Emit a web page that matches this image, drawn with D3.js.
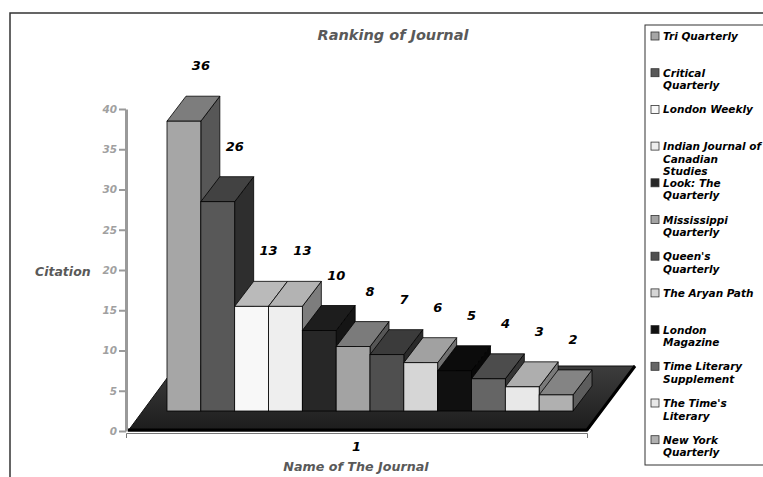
<!DOCTYPE html>
<html>
<head>
<meta charset="utf-8">
<script src="https://cdn.jsdelivr.net/npm/d3@7"></script>
<style>
  body { margin: 0; background: #fff; }
  text { font-family: "DejaVu Sans", Arial, sans-serif; font-weight: bold; font-style: italic; }
</style>
</head>
<body>
<script>
// chart data
var journals = ["Tri Quarterly", "Critical Quarterly", "London Weekly",
  "Indian Journal of Canadian Studies", "Look: The Quarterly", "Mississippi Quarterly",
  "Queen's Quarterly", "The Aryan Path", "London Magazine",
  "Time Literary Supplement", "The Time's Literary", "New York Quarterly"];
var citations = [36, 26, 13, 13, 10, 8, 7, 6, 5, 4, 3, 2];
var legendLines = [["Tri Quarterly"], ["Critical", "Quarterly"], ["London Weekly"],
  ["Indian Journal of", "Canadian", "Studies"], ["Look: The", "Quarterly"], ["Mississippi", "Quarterly"],
  ["Queen's", "Quarterly"], ["The Aryan Path"], ["London", "Magazine"],
  ["Time Literary", "Supplement"], ["The Time's", "Literary"], ["New York", "Quarterly"]];
var yTicks = [0, 5, 10, 15, 20, 25, 30, 35, 40];
var colors = ["#a6a6a6", "#585858", "#f8f8f8", "#eeeeee", "#272727", "#a3a3a3",
  "#4f4f4f", "#d6d6d6", "#101010", "#656565", "#e8e8e8", "#b0b0b0"];

var width = 763, height = 477;

var svg = d3.select("body").append("svg")
  .attr("width", width)
  .attr("height", height);

var defs = svg.append("defs");
var grad = defs.append("linearGradient").attr("id", "floorGrad")
  .attr("x1", 0).attr("y1", 0).attr("x2", 0).attr("y2", 1);
grad.append("stop").attr("offset", "0%").attr("stop-color", "#3d3d3d");
grad.append("stop").attr("offset", "100%").attr("stop-color", "#1c1c1c");

// outer frame
svg.append("rect")
  .attr("x", 10).attr("y", 13)
  .attr("width", 800).attr("height", 500)
  .attr("fill", "none").attr("stroke", "#333").attr("stroke-width", 1.5);

var y = d3.scaleLinear().domain([0, 40]).range([431, 109]);
var x = d3.scaleBand().domain(journals).range([167, 573]).padding(0);

var lift = 20;           // bars stand on the floor, raised from axis zero
var ddx = 19, ddy = -25; // bar depth
var fdx = 48, fdy = -65; // floor depth

// floor
var fx0 = 128, fx1 = 587, fy = 431;
svg.append("path")
  .attr("d", "M" + fx0 + "," + fy + "L" + fx1 + "," + fy + "L" + (fx1 + fdx) + "," + (fy + fdy) +
    "L" + (fx0 + fdx) + "," + (fy + fdy) + "Z")
  .attr("fill", "url(#floorGrad)")
  .attr("stroke", "#111").attr("stroke-width", 1);
svg.append("path")
  .attr("d", "M" + fx0 + "," + (fy - 1) + "L" + fx1 + "," + (fy - 1) + "L" + (fx1 + fdx) + "," + (fy + fdy))
  .attr("fill", "none").attr("stroke", "#000").attr("stroke-width", 3);

// y axis
var yAxis = svg.append("g")
  .attr("transform", "translate(126,0)")
  .call(d3.axisLeft(y).tickValues(yTicks).tickSizeInner(7).tickSizeOuter(0).tickPadding(2));
yAxis.select(".domain").attr("stroke", "#9a9a9a").attr("stroke-width", 3);
yAxis.selectAll(".tick line").attr("stroke", "#9a9a9a").attr("stroke-width", 2);
yAxis.selectAll(".tick text")
  .attr("fill", "#a0a0a0")
  .style("font-size", "10.5px")
  .style("font-family", "DejaVu Sans, Arial, sans-serif");

// x axis
var xCat = d3.scaleBand().domain(["1"]).range([126, 587]);
var xAxis = svg.append("g")
  .attr("transform", "translate(0,433)")
  .call(d3.axisBottom(xCat).tickSizeInner(0).tickSizeOuter(5).tickPadding(9));
xAxis.select(".domain").attr("stroke", "#777").attr("stroke-width", 1);
xAxis.selectAll(".tick text")
  .attr("fill", "#000")
  .style("font-size", "13px")
  .style("font-family", "DejaVu Sans, Arial, sans-serif");

// bars
var bars = svg.selectAll(".bar")
  .data(journals)
  .enter()
  .append("g")
  .attr("class", "bar");

bars.each(function(d, i){
  var g = d3.select(this);
  var x0 = x(d), x1 = x(d) + x.bandwidth();
  var yb = y(0) - lift, yt = y(citations[i]) - lift;
  var c = d3.color(colors[i]);
  g.append("path")
    .attr("d", "M" + x1 + "," + yb + "L" + (x1 + ddx) + "," + (yb + ddy) + "L" + (x1 + ddx) + "," + (yt + ddy) +
      "L" + x1 + "," + yt + "Z")
    .attr("fill", c.darker(1.8)).attr("stroke", "#000").attr("stroke-width", 0.8);
  g.append("path")
    .attr("d", "M" + x0 + "," + yt + "L" + (x0 + ddx) + "," + (yt + ddy) + "L" + (x1 + ddx) + "," + (yt + ddy) +
      "L" + x1 + "," + yt + "Z")
    .attr("fill", c.darker(0.8)).attr("stroke", "#000").attr("stroke-width", 0.8);
  g.append("rect")
    .attr("x", x0).attr("y", yt)
    .attr("width", x.bandwidth()).attr("height", yb - yt)
    .attr("fill", colors[i]).attr("stroke", "#000").attr("stroke-width", 0.8);
});

// value labels
svg.selectAll(".val")
  .data(citations)
  .enter()
  .append("text")
  .attr("class", "val")
  .attr("x", function(d, i){ return x(journals[i]) + x.bandwidth() / 2 + 17; })
  .attr("y", function(d){ return y(d) - lift - 51; })
  .attr("text-anchor", "middle")
  .style("font-size", "13px")
  .text(function(d){ return d; });

// titles
svg.append("text")
  .attr("x", 393).attr("y", 40)
  .attr("text-anchor", "middle")
  .attr("fill", "#595959")
  .style("font-size", "14.5px")
  .text("Ranking of Journal");

svg.append("text")
  .attr("x", 35).attr("y", 276)
  .attr("fill", "#595959")
  .style("font-size", "12.5px")
  .text("Citation");

svg.append("text")
  .attr("x", 356).attr("y", 471)
  .attr("text-anchor", "middle")
  .attr("fill", "#595959")
  .style("font-size", "12.7px")
  .text("Name of The Journal");

// legend
svg.append("rect")
  .attr("x", 645).attr("y", 25)
  .attr("width", 200).attr("height", 440)
  .attr("fill", "#fff").attr("stroke", "#333").attr("stroke-width", 1);

var legend = svg.selectAll(".legend")
  .data(journals)
  .enter()
  .append("g")
  .attr("class", "legend")
  .attr("transform", function(d, i){ return "translate(651," + (36 + i * 36.7) + ")"; });

legend.append("rect")
  .attr("x", 0).attr("y", -4)
  .attr("width", 8).attr("height", 8)
  .attr("fill", function(d, i){ return colors[i]; })
  .attr("stroke", "#333").attr("stroke-width", 0.8);

legend.append("text")
  .attr("x", 12).attr("y", 4)
  .style("font-size", "10.5px")
  .selectAll("tspan")
  .data(function(d, i){ return legendLines[i]; })
  .enter()
  .append("tspan")
  .attr("x", 12)
  .attr("dy", function(d, j){ return j === 0 ? 0 : 12.5; })
  .text(function(d){ return d; });
</script>
</body>
</html>
